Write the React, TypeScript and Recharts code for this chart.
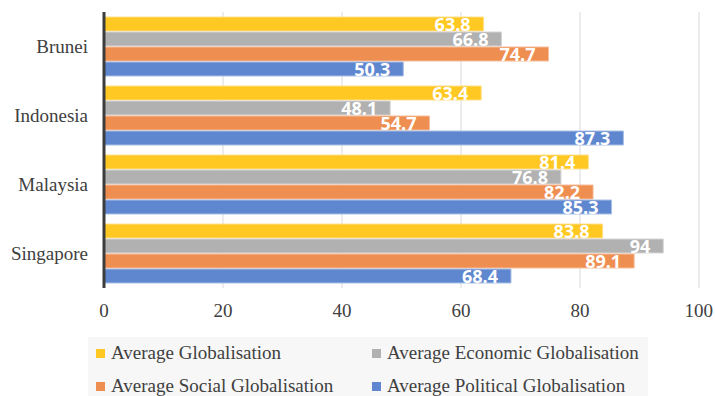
import {
  BarChart,
  Bar,
  XAxis,
  YAxis,
  CartesianGrid,
  LabelList,
} from 'recharts';

const countries = ['Brunei', 'Indonesia', 'Malaysia', 'Singapore'];
const avgGlobal = [63.8, 63.4, 81.4, 83.8];
const avgEconomic = [66.8, 48.1, 76.8, 94];
const avgSocial = [74.7, 54.7, 82.2, 89.1];
const avgPolitical = [50.3, 87.3, 85.3, 68.4];
const xTicks = [0, 20, 40, 60, 80, 100];

const series = [
  { key: 'global', name: 'Average Globalisation', fill: '#FFC822', stroke: '#FFE08A' },
  { key: 'economic', name: 'Average Economic Globalisation', fill: '#B1B1B1', stroke: '#D6D6D6' },
  { key: 'social', name: 'Average Social Globalisation', fill: '#EF8E51', stroke: '#F6BE99' },
  { key: 'political', name: 'Average Political Globalisation', fill: '#5F87CF', stroke: '#A9BFE6' },
];

const data = countries.map((c, i) => ({
  country: c,
  global: avgGlobal[i],
  economic: avgEconomic[i],
  social: avgSocial[i],
  political: avgPolitical[i],
}));

const serif = '"Liberation Serif", "Times New Roman", serif';

export default function App() {
  return (
    <div style={{ position: 'absolute', left: 0, top: 0, width: 715, height: 396, background: '#fff' }}>
      <BarChart
        width={715}
        height={396}
        data={data}
        layout="vertical"
        margin={{ top: 12, right: 16, bottom: 68, left: 0 }}
        barCategoryGap={5}
        barGap={1}
      >
        <CartesianGrid horizontal={false} stroke="#d9d9d9" />
        <XAxis
          type="number"
          domain={[0, 100]}
          ticks={xTicks}
          tickLine={false}
          axisLine={false}
          tickSize={0}
          tickMargin={16}
          height={40}
          tick={{ fontSize: 19, fill: '#404040', fontFamily: serif }}
        />
        <YAxis
          type="category"
          dataKey="country"
          width={104}
          tickLine={false}
          tickSize={0}
          tickMargin={16}
          axisLine={{ stroke: '#3d3d3d', strokeWidth: 3 }}
          tick={{ fontSize: 19, fill: '#404040', fontFamily: serif }}
        />
        {series.map(s => (
          <Bar
            key={s.key}
            dataKey={s.key}
            name={s.name}
            fill={s.fill}
            stroke={s.stroke}
            strokeWidth={1}
            isAnimationActive={false}
          >
            <LabelList
              dataKey={s.key}
              position="insideRight"
              offset={13}
              dy={1}
              fill="#ffffff"
              style={{ fontSize: 18, fontWeight: 700, fontFamily: '"Open Sans", sans-serif' }}
            />
          </Bar>
        ))}
      </BarChart>
      <div
        style={{
          position: 'absolute',
          left: 88,
          top: 337,
          width: 560,
          height: 59,
          background: '#f7f7f7',
          fontFamily: serif,
          fontSize: 19,
          color: '#404040',
        }}
      >
        {series.map((s, i) => (
          <div
            key={s.key}
            style={{
              position: 'absolute',
              left: i % 2 === 0 ? 8 : 284,
              top: i < 2 ? 5 : 38,
              height: 22,
              display: 'flex',
              alignItems: 'center',
              whiteSpace: 'nowrap',
            }}
          >
            <span style={{ display: 'inline-block', width: 9, height: 9, background: s.fill, marginRight: 6 }} />
            {s.name}
          </div>
        ))}
      </div>
    </div>
  );
}
